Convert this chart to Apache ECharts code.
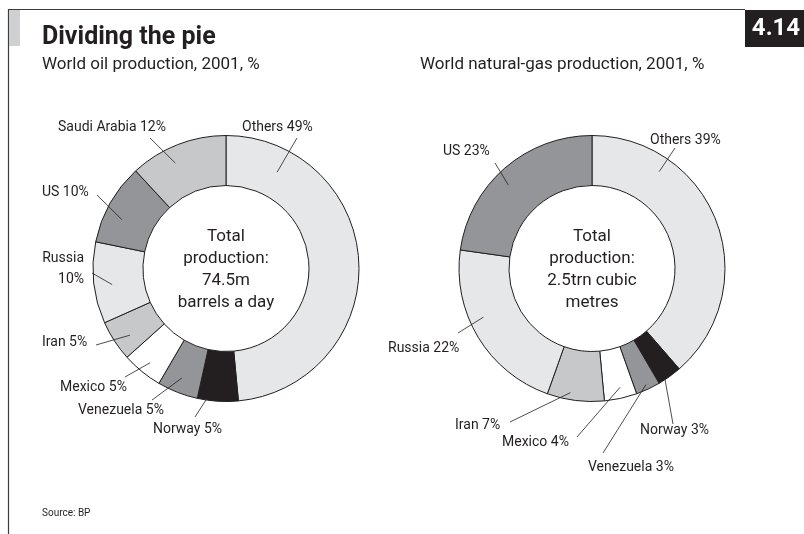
<!DOCTYPE html>
<html>
<head>
<meta charset="utf-8">
<script src="https://cdn.jsdelivr.net/npm/echarts@6/dist/echarts.min.js"></script>
<style>
html,body{margin:0;padding:0;background:#fff;}
#chart{width:804px;height:534px;}
</style>
</head>
<body>
<div id="chart"></div>
<script>
// ---- Data ----
const oilNames = ['Others', 'Norway', 'Venezuela', 'Mexico', 'Iran', 'Russia', 'US', 'Saudi Arabia'];
const oilValues = [49, 5, 5, 5, 5, 10, 10, 12];
const gasNames = ['Others', 'Norway', 'Venezuela', 'Mexico', 'Iran', 'Russia', 'US'];
const gasValues = [39, 3, 3, 4, 7, 22, 23];

// ---- Styles ----
const FONT = 'Roboto, "Noto Sans", sans-serif';
const INK = '#231f20';
const fillMap = {
  'Others': '#e6e7e8', 'Norway': '#231f20', 'Venezuela': '#939598', 'Mexico': '#ffffff',
  'Iran': '#c7c8ca', 'Russia': '#e6e7e8', 'US': '#939598', 'Saudi Arabia': '#c7c8ca'
};

const oilCenter = [226, 268.5];
const gasCenter = [592, 268.5];
const radii = [83, 133];

// label layout: [labelX, labelY, align, lineEndX, lineEndY, startFrac, startR]
const oilLabelLayout = [
  [242, 127, 'left', 297, 138, 0.16, 109],
  [153, 429, 'left', 195, 417, 0.73, 128],
  [78, 410, 'left', 152, 400, 0.53, 118],
  [60, 387, 'left', 125, 377, 0.48, 121],
  [42, 342, 'left', 96, 345, 0.40, 117],
  [84, 269, 'right', 92, 273, 0.45, 115],
  [42, 192, 'left', 97, 195, 0.38, 115],
  [58, 127, 'left', 150, 138, 0.40, 117]
];
const gasLabelLayout = [
  [650, 140, 'left', 675, 148, 0.25, 118],
  [640, 430, 'left', 673, 424, 0.70, 132],
  [588, 467, 'left', 603, 453, 0.50, 128],
  [502, 442, 'left', 577, 437, 0.44, 122],
  [455, 425, 'left', 510, 422, 0.61, 126],
  [388, 348, 'left', 458, 333, 0.59, 119],
  [443, 151, 'left', 495, 163, 0.45, 118]
];

function sliceAngles(values) {
  const total = values.reduce((a, b) => a + b, 0);
  let acc = 0;
  return values.map(v => { const s = acc; acc += v; return [s / total * 360, acc / total * 360]; });
}

function leaderLines(values, center, layout) {
  const angles = sliceAngles(values);
  return layout.map((L, i) => {
    const a = angles[i];
    const ang = (a[0] + (a[1] - a[0]) * L[5]) * Math.PI / 180;
    const sx = center[0] + L[6] * Math.sin(ang);
    const sy = center[1] - L[6] * Math.cos(ang);
    return {
      type: 'line', z: 100, silent: true,
      shape: { x1: sx, y1: sy, x2: L[3], y2: L[4] },
      style: { stroke: INK, lineWidth: 0.8 }
    };
  });
}

function makeLayout(layout) {
  return function (params) {
    const L = layout[params.dataIndex];
    return { x: L[0], y: L[1], align: L[2], verticalAlign: 'middle' };
  };
}

function pieSeries(names, values, center, layout, breakNames) {
  return {
    type: 'pie',
    center: center,
    radius: radii,
    startAngle: 90,
    clockwise: true,
    avoidLabelOverlap: false,
    animation: false,
    silent: true,
    emphasis: { disabled: true },
    itemStyle: { borderColor: INK, borderWidth: 1 },
    data: names.map((n, i) => ({ name: n, value: values[i], itemStyle: { color: fillMap[n] } })),
    label: {
      show: true,
      position: 'outside',
      fontFamily: FONT,
      fontSize: 14,
      lineHeight: 21,
      color: INK,
      formatter: p => p.name + (breakNames.indexOf(p.name) >= 0 ? '\n' : ' ') + p.value + '%'
    },
    labelLine: { show: false },
    labelLayout: makeLayout(layout)
  };
}

const chart = echarts.init(document.getElementById('chart'), null, { renderer: 'canvas' });
chart.setOption({
  backgroundColor: '#ffffff',
  animation: false,
  textStyle: { fontFamily: FONT },
  series: [
    pieSeries(oilNames, oilValues, oilCenter, oilLabelLayout, ['Russia']),
    pieSeries(gasNames, gasValues, gasCenter, gasLabelLayout, [])
  ],
  graphic: [
    { type: 'line', shape: { x1: 8, y1: 9.5, x2: 745, y2: 9.5 }, style: { stroke: '#3c3c3c', lineWidth: 1.2 } },
    { type: 'line', shape: { x1: 8.5, y1: 9, x2: 8.5, y2: 534 }, style: { stroke: '#3c3c3c', lineWidth: 1.2 } },
    { type: 'rect', shape: { x: 9, y: 10, width: 11, height: 36 }, style: { fill: '#cfd0d2' } },
    { type: 'rect', shape: { x: 745, y: 10, width: 59, height: 37 }, style: { fill: INK } },
    { type: 'text', x: 776, y: 29, style: { text: '4.14', fill: '#ffffff', font: 'bold 24px ' + FONT, align: 'center', verticalAlign: 'middle' } },
    { type: 'text', x: 42, y: 38, style: { text: 'Dividing the pie', fill: INK, font: 'bold 25px ' + FONT, align: 'left', verticalAlign: 'middle' } },
    { type: 'text', x: 42, y: 65, style: { text: 'World oil production, 2001, %', fill: INK, font: '17px ' + FONT, align: 'left', verticalAlign: 'middle' } },
    { type: 'text', x: 420, y: 65, style: { text: 'World natural-gas production, 2001, %', fill: INK, font: '17px ' + FONT, align: 'left', verticalAlign: 'middle' } },
    { type: 'text', x: 226, y: 270, style: { text: 'Total\nproduction:\n74.5m\nbarrels a day', fill: INK, font: '17px ' + FONT, lineHeight: 22, align: 'center', verticalAlign: 'middle' } },
    { type: 'text', x: 592, y: 270, style: { text: 'Total\nproduction:\n2.5trn cubic\nmetres', fill: INK, font: '17px ' + FONT, lineHeight: 22, align: 'center', verticalAlign: 'middle' } },
    { type: 'text', x: 42, y: 513, style: { text: 'Source: BP', fill: INK, font: '10px ' + FONT, align: 'left', verticalAlign: 'middle' } }
  ].concat(leaderLines(oilValues, oilCenter, oilLabelLayout), leaderLines(gasValues, gasCenter, gasLabelLayout))
});
</script>
</body>
</html>
